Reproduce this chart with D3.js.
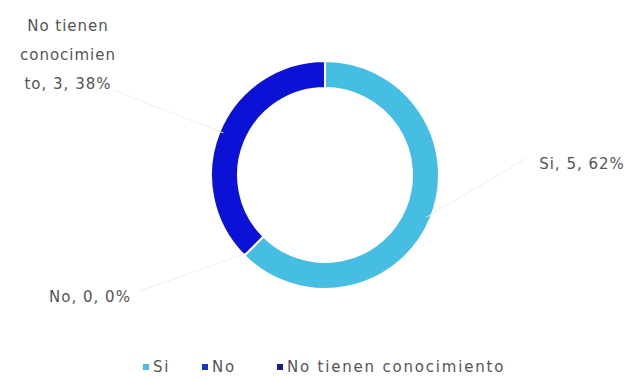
<!DOCTYPE html>
<html>
<head>
<meta charset="utf-8">
<script src="https://cdn.jsdelivr.net/npm/d3@7"></script>
<style>
  body { margin: 0; background: #fff; }
  text { font-family: "DejaVu Sans", "Open Sans", sans-serif; fill: #555; letter-spacing: 1px; }
</style>
</head>
<body>
<script>
// datos de la encuesta
var categories = ["Si", "No", "No tienen conocimiento"];
var counts = [5, 0, 3];
var percents = ["62%", "0%", "38%"];
var sliceColors = ["#46bde2", "#1b33c8", "#0b12d6"];
var legendColors = ["#46bde2", "#1b33c8", "#1a1d8c"];

var width = 630, height = 379;
var cx = 325, cy = 175;
var outerR = 114, innerR = 87;

var svg = d3.select("body").append("svg")
    .attr("width", width)
    .attr("height", height);

var data = categories.map(function (c, i) {
  return { name: c, value: counts[i], pct: percents[i], color: sliceColors[i] };
});

var pie = d3.pie()
    .sort(null)
    .value(function (d) { return d.value; });

var arc = d3.arc()
    .innerRadius(innerR)
    .outerRadius(outerR);

var arcs = pie(data);

var g = svg.append("g")
    .attr("transform", "translate(" + cx + "," + cy + ")");

g.selectAll("path.slice")
    .data(arcs)
  .enter().append("path")
    .attr("class", "slice")
    .attr("d", arc)
    .attr("fill", function (d) { return d.data.color; })
    .attr("stroke", "#fff")
    .attr("stroke-width", 2);

// etiquetas con lineas guia
var labelPos = [
  { x: 582, y: 164, lines: ["Si, 5, 62%"] },
  { x: 90, y: 297, lines: ["No, 0, 0%"] },
  { x: 68, y: 26, lines: ["No tienen", "conocimien", "to, 3, 38%"] }
];

arcs.forEach(function (d, i) {
  var p = labelPos[i];
  var mid = (d.startAngle + d.endAngle) / 2;
  var r0 = outerR - 4;
  var sx = cx + Math.sin(mid) * r0, sy = cy - Math.cos(mid) * r0;
  var ex = i === 0 ? p.x - 55 : (i === 1 ? p.x + 50 : p.x + 45);
  var ey = i === 2 ? p.y + 64 : p.y - 6;

  svg.append("line")
      .attr("x1", sx).attr("y1", sy)
      .attr("x2", ex).attr("y2", ey)
      .attr("stroke", "#efefef")
      .attr("stroke-width", 1);

  var t = svg.append("text")
      .attr("x", p.x)
      .attr("y", p.y)
      .attr("text-anchor", "middle")
      .style("font-size", "15px");
  p.lines.forEach(function (l, j) {
    t.append("tspan")
        .attr("x", p.x)
        .attr("dy", j === 0 ? "0.35em" : 29)
        .text(l);
  });
});

// leyenda
var legendX = [143, 202, 277];
var legend = svg.append("g")
    .attr("transform", "translate(0,367)");

categories.forEach(function (c, i) {
  legend.append("rect")
      .attr("x", legendX[i])
      .attr("y", -3)
      .attr("width", 6)
      .attr("height", 6)
      .attr("fill", legendColors[i]);
  legend.append("text")
      .attr("x", legendX[i] + 10)
      .attr("y", 0)
      .attr("dy", "0.35em")
      .style("font-size", "15px")
      .style("letter-spacing", "1.8px")
      .text(c);
});
</script>
</body>
</html>
